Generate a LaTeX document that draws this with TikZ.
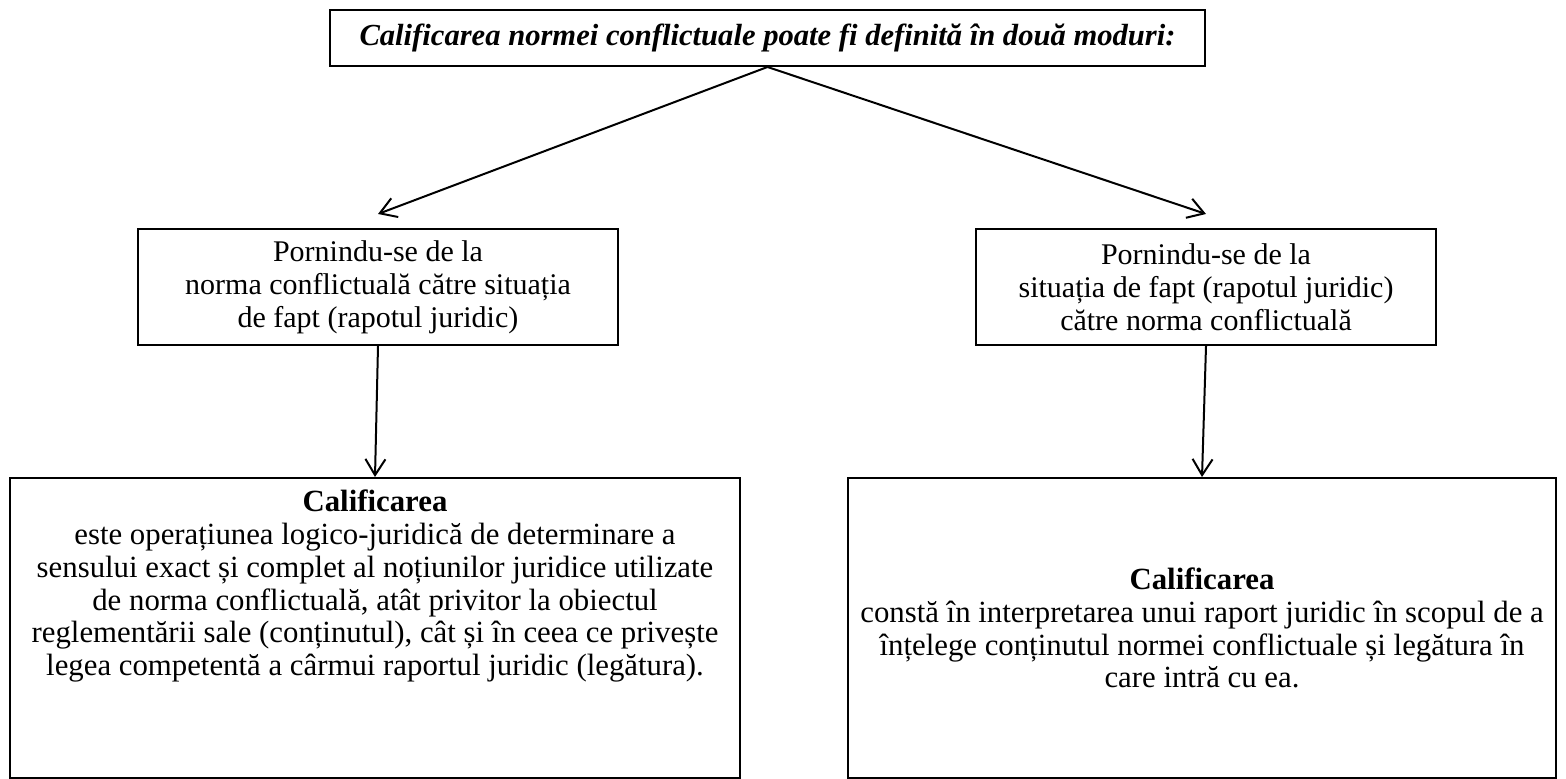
\documentclass[tikz,border=0pt]{standalone}
\usepackage{fontspec}
\setmainfont{Liberation Serif}
\usetikzlibrary{positioning}
\usetikzlibrary{arrows.meta}

\newcommand{\boxfont}{\fontsize{15}{16.4}\selectfont}
\newcommand{\defnfont}{\fontsize{15.4}{16.4}\selectfont}
\tikzset{
  box/.style={draw, line width=1pt, inner sep=0pt, align=center, font=\boxfont},
  arr/.style={-{Straight Barb[length=8pt,width=10pt]}, line width=1pt},
}

\begin{document}
\begin{tikzpicture}[x=0.5pt,y=-0.5pt]
\useasboundingbox (0,0) rectangle (1566,779); % same frame as the scan

% heading
\node[box, minimum width=437.5pt, minimum height=28pt, font=\fontsize{15.3}{16.4}\selectfont] (head) at (767.5,38)
  {\textbf{\textit{Calificarea normei conflictuale poate fi definită în două moduri:}}};

% the two ways
\node[box, minimum width=240pt, minimum height=58pt] (lmid) at (378,287)
  {Pornindu-se de la\\norma conflictuală către situația\\de fapt (rapotul juridic)};
\node[box, minimum width=230pt, minimum height=58pt] (rmid) at (1206,287)
  {Pornindu-se de la\\situația de fapt (rapotul juridic)\\către norma conflictuală};

% definitions
\node[box, minimum width=365pt, minimum height=150pt] (lbot) at (375,628) {};
\node[font=\defnfont, align=center, anchor=north] (ltxt) at ([yshift=-3pt]lbot.north)
  {\textbf{Calificarea}\\
   este operațiunea logico-juridică de determinare a\\
   sensului exact și complet al noțiunilor juridice utilizate\\
   de norma conflictuală, atât privitor la obiectul\\
   reglementării sale (conținutul), cât și în ceea ce privește\\
   legea competentă a cârmui raportul juridic (legătura).};
\node[box, font=\defnfont, minimum width=354pt, minimum height=150pt] (rbot) at (1202,628)
  {\textbf{Calificarea}\\
   constă în interpretarea unui raport juridic în scopul de a\\
   înțelege conținutul normei conflictuale și legătura în\\
   care intră cu ea.};

\draw[arr] (head.south) -- ([yshift=7pt]lmid.north);
\draw[arr] (head.south) -- ([yshift=7pt]rmid.north);
\draw[arr] (lmid.south) -- (lbot.north);
\draw[arr] (rmid.south) -- (rbot.north);
\end{tikzpicture}
\end{document}
